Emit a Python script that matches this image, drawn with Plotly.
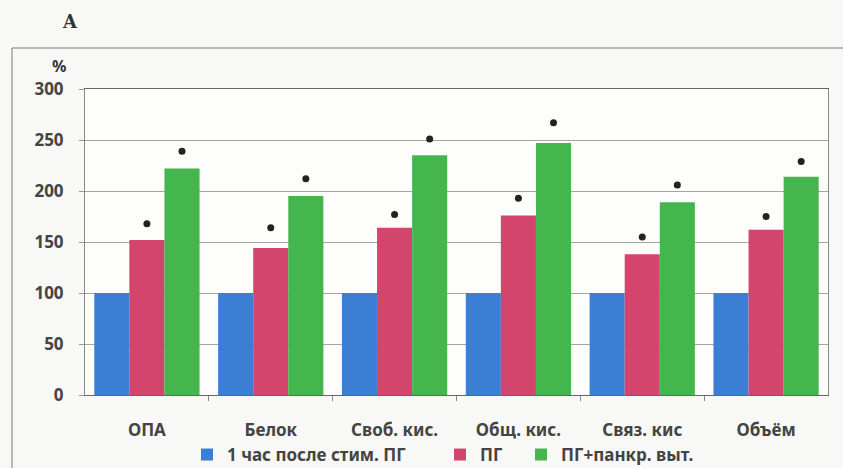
import plotly.graph_objects as go

categories = ["ОПА", "Белок", "Своб. кис.", "Общ. кис.", "Связ. кис", "Объём"]
series_names = ["1 час после стим. ПГ", "ПГ", "ПГ+панкр. выт."]
blue_vals = [100, 100, 100, 100, 100, 100]
red_vals = [152, 144, 164, 176, 138, 162]
green_vals = [222, 195, 235, 247, 189, 214]
red_sig = [168, 164, 177, 193, 155, 175]
green_sig = [239, 212, 251, 267, 206, 229]
y_ticks = [0, 50, 100, 150, 200, 250, 300]

colors = ["#3b7fd4", "#d3456c", "#45b54d"]
FONT = "Noto Sans"

bargap = 0.15
nser = 3
bw = (1 - bargap) / nser
xs = list(range(len(categories)))

legend_ids = ["legend", "legend2", "legend3"]
legend_left_px = [187, 440, 521]

fig = go.Figure()
for k, (name, vals) in enumerate(zip(series_names, [blue_vals, red_vals, green_vals])):
    fig.add_trace(go.Bar(x=xs, y=vals, name=name, legend=legend_ids[k],
                         marker=dict(color=colors[k], line=dict(width=0))))

def offs(k):
    return [i + (k - (nser - 1) / 2) * bw for i in xs]

fig.add_trace(go.Scatter(x=offs(1), y=red_sig, mode="markers", showlegend=False,
                         marker=dict(color="#222", size=7)))
fig.add_trace(go.Scatter(x=offs(2), y=green_sig, mode="markers", showlegend=False,
                         marker=dict(color="#222", size=7)))

leg_common = dict(orientation="h", yanchor="middle", y=-0.196, xanchor="left",
                  font=dict(family=FONT, size=17, color="#444", weight="bold"),
                  itemwidth=30, bgcolor="rgba(0,0,0,0)")

fig.update_layout(
    width=843, height=468,
    margin=dict(l=85, r=15, t=89, b=73, autoexpand=False),
    paper_bgcolor="#f8f8f6", plot_bgcolor="#fdfdfc",
    barmode="group", bargap=bargap, bargroupgap=0,
    font=dict(family=FONT, color="#444"),
    legend=dict(x=(legend_left_px[0] - 85) / 743, **leg_common),
    legend2=dict(x=(legend_left_px[1] - 85) / 743, **leg_common),
    legend3=dict(x=(legend_left_px[2] - 85) / 743, **leg_common),
    showlegend=True,
)
fig.update_xaxes(
    range=[-0.5, len(categories) - 0.5],
    tickvals=xs, ticktext=categories, ticks="",
    tickfont=dict(family=FONT, size=17, color="#444", weight="bold"),
    ticklabelstandoff=20, automargin=False,
    showgrid=False, zeroline=False,
    showline=True, linecolor="#666", linewidth=1, mirror=True,
    minor=dict(tickvals=[i + 0.5 for i in xs[:-1]], ticks="outside", ticklen=5, tickcolor="#888", showgrid=False),
)
fig.update_yaxes(
    range=[0, 300], tickvals=y_ticks,
    tickfont=dict(family=FONT, size=17, color="#444", weight="bold"),
    ticks="outside", ticklen=5, tickcolor="#999", ticklabelstandoff=12, automargin=False,
    showgrid=True, gridcolor="#a5a5a5", gridwidth=1,
    zeroline=False, showline=True, linecolor="#888", linewidth=1, mirror=True,
)
fig.add_annotation(text="%", xref="paper", yref="paper", x=(59 - 85) / 743, y=(395 - 66) / 306,
                   xanchor="center", yanchor="middle",
                   showarrow=False, font=dict(family=FONT, size=16, color="#333", weight="bold"))
fig.add_annotation(text="A", xref="paper", yref="paper", x=(70 - 85) / 743, y=(395 - 22) / 306,
                   xanchor="center", yanchor="middle",
                   showarrow=False, font=dict(family="DejaVu Serif", size=18, color="#333", weight="bold"))
fig.add_shape(type="rect", xref="paper", yref="paper",
              x0=(12 - 85) / 743, x1=1.1, y0=-0.5, y1=(395 - 48) / 306,
              line=dict(color="#777", width=1), fillcolor="rgba(0,0,0,0)", layer="below")

fig.write_html("out.html", config={"displayModeBar": False},
               post_script="document.body.style.margin='0';document.body.style.overflow='hidden';")
